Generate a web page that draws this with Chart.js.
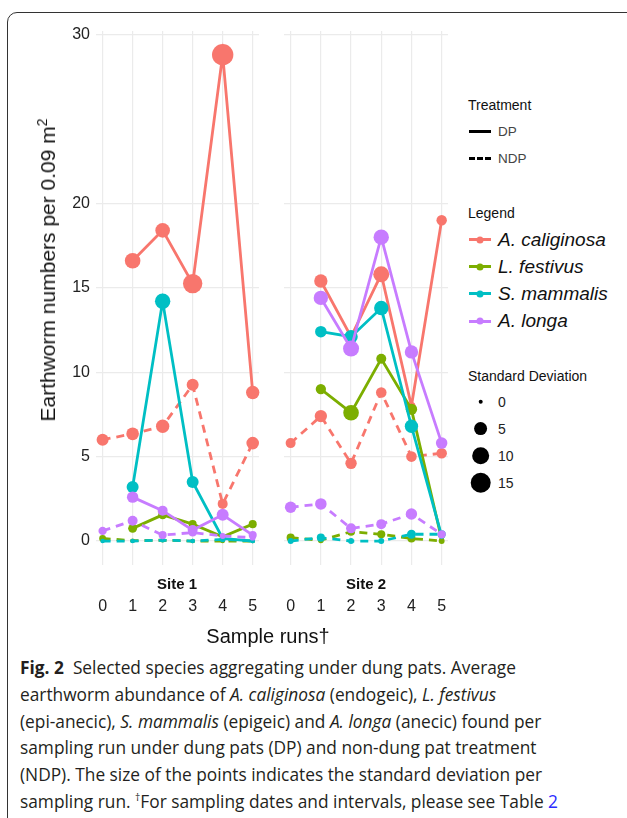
<!DOCTYPE html>
<html>
<head>
<meta charset="utf-8">
<script src="https://cdn.jsdelivr.net/npm/chart.js@4.4.1/dist/chart.umd.min.js"></script>
<style>
html, body { margin: 0; padding: 0; background: #fff; }
body { width: 627px; height: 818px; position: relative; overflow: hidden; font-family: "Liberation Sans", Arial, sans-serif; color: #111; }
.frame { position: absolute; left: 7px; top: 12px; width: 640px; height: 830px; border: 1.3px solid #333; border-radius: 10px; box-sizing: border-box; }
.cv { position: absolute; top: 0; }
.ytitle { position: absolute; left: 47px; top: 270px; transform: translate(-50%, -50%) rotate(-90deg); white-space: nowrap; font-size: 21px; }
.ytitle sup { font-size: 14px; }
.strip { position: absolute; top: 583px; transform: translate(-50%, -50%); font-weight: bold; font-size: 15px; white-space: nowrap; }
.xtitle { position: absolute; left: 268px; top: 636px; transform: translate(-50%, -50%); font-size: 20px; white-space: nowrap; }
.lt { position: absolute; left: 468px; font-size: 14px; transform: translateY(-50%); white-space: nowrap; }
.ll { position: absolute; left: 498px; transform: translateY(-50%); white-space: nowrap; }
.key { position: absolute; left: 469px; width: 22px; height: 0; }
.dot { position: absolute; border-radius: 50%; transform: translate(-50%, -50%); }
.caption { position: absolute; left: 20px; top: 654px; font-family: "Open Sans", sans-serif; font-size: 18.5px; line-height: 26.8px; color: #231f20; transform-origin: 0 0; white-space: nowrap; }
.caption sup { font-size: 11px; vertical-align: 7px; line-height: 0; }
</style>
</head>
<body>
<div class="frame"></div>
<canvas id="site1" class="cv" style="left:0px" width="265" height="640"></canvas>
<canvas id="site2" class="cv" style="left:270px" width="185" height="640"></canvas>

<div class="ytitle">Earthworm numbers per 0.09 m<sup>2</sup></div>
<div class="strip" style="left:177px">Site 1</div>
<div class="strip" style="left:366px">Site 2</div>
<div class="xtitle">Sample runs†</div>

<div id="legend"></div>

<div class="caption" id="caption">
<div><b>Fig. 2</b>&nbsp; Selected species aggregating under dung pats. Average</div>
<div>earthworm abundance of <i>A. caliginosa</i> (endogeic), <i>L. festivus</i></div>
<div>(epi-anecic), <i>S. mammalis</i> (epigeic) and <i>A. longa</i> (anecic) found per</div>
<div>sampling run under dung pats (DP) and non-dung pat treatment</div>
<div>(NDP). The size of the points indicates the standard deviation per</div>
<div>sampling run. <sup>†</sup>For sampling dates and intervals, please see Table <span style="color:#2b2bff">2</span></div>
</div>

<script>
// Data

const runs = [0, 1, 2, 3, 4, 5];
const yTicks = [0, 5, 10, 15, 20, 30];
const species = ["A. caliginosa", "L. festivus", "S. mammalis", "A. longa"];
const colors = ["#F8766D", "#7CAE00", "#00BFC4", "#C77CFF"];
const sdLegend = [0, 5, 10, 15];

// Site 1 means (DP = dung pat, NDP = non-dung pat)
const site1DP = [
	[null, 16.6, 18.4, 15.25, 28.8, 8.8],
	[null, 0.75, 1.55, 1.0, 0.25, 1.0],
	[null, 3.2, 14.2, 3.5, 0.15, 0],
	[null, 2.6, 1.8, 0.65, 1.55, 0.35],
];
const site1NDP = [
	[6.0, 6.35, 6.8, 9.25, 2.2, 5.8],
	[0.15, 0.02, 0.05, 0, 0, 0],
	[0, 0, 0.05, 0, 0.1, 0],
	[0.6, 1.2, 0.35, 0.5, 0.3, 0.2],
];
// Site 1 standard deviations
const site1DPsd = [
	[null, 7.1, 5.9, 12.8, 16.5, 4.5],
	[null, 1.1, 1.1, 0.7, 0.1, 0.7],
	[null, 3.2, 6.8, 3.2, 0.1, 0],
	[null, 2.7, 1.7, 1.7, 3.2, 0.7],
];
const site1NDPsd = [
	[3.2, 3.8, 4.5, 3.2, 1.7, 3.8],
	[0.3, 0, 0, 0, 0, 0],
	[0, 0, 0, 0, 0.1, 0],
	[0.8, 1.7, 0.7, 0.7, 0.1, 0.1],
];

// Site 2 means
const site2DP = [
	[null, 15.4, 12.1, 15.8, 8.0, 19.0],
	[null, 9.0, 7.6, 10.8, 7.8, 0.1],
	[null, 12.4, 12.1, 13.8, 6.8, 0.3],
	[null, 14.4, 11.4, 18.0, 11.2, 5.8],
];
const site2NDP = [
	[5.8, 7.4, 4.6, 8.8, 5.0, 5.2],
	[0.2, 0.05, 0.55, 0.4, 0.15, 0],
	[0, 0.2, 0, 0, 0.4, 0.4],
	[2.0, 2.2, 0.75, 1.0, 1.6, 0.4],
];
// Site 2 standard deviations
const site2DPsd = [
	[null, 4.5, 0.8, 7.6, 0.7, 2.0],
	[null, 1.9, 7.1, 1.7, 2.7, 0],
	[null, 2.8, 4.5, 5.6, 4.5, 0.1],
	[null, 5.6, 7.6, 6.8, 4.5, 2.8],
];
const site2NDPsd = [
	[1.7, 3.5, 2.7, 2.1, 2.1, 2.1],
	[0.7, 0.1, 0.7, 0.7, 0.7, 0.1],
	[0.1, 0.7, 0.1, 0.1, 1.1, 0.7],
	[2.8, 2.8, 1.7, 1.7, 2.7, 0.8],
];

// point radius from standard deviation (area-like scale)
function sdRadius(sd) {
	if (sd == null) return 0;
	return 2.3 + 8 * Math.sqrt(sd / 15);
}

const gridColor = "#ebebeb";
const tickFont = { family: "Liberation Sans", size: 16 };

function buildDatasets(dp, ndp, dpSd, ndpSd) {
	let sets = [];
	for (let i = 0; i < species.length; i++) {
		[[dp[i], dpSd[i], []], [ndp[i], ndpSd[i], [8, 6]]].forEach(function (s) {
			sets.push({
				label: species[i],
				data: runs.map((r, j) => ({ x: r, y: s[0][j] })),
				borderColor: colors[i],
				backgroundColor: colors[i],
				pointBackgroundColor: colors[i],
				borderWidth: 2.8,
				borderDash: s[2],
				pointRadius: s[1].map(sdRadius),
				pointHoverRadius: s[1].map(sdRadius),
				pointBorderWidth: 0,
				tension: 0,
				clip: false,
				order: species.length - i,
			});
		});
	}
	return sets;
}

function makeChart(id, sets, first) {
	new Chart(document.getElementById(id), {
		type: "line",
		data: { datasets: sets },
		options: {
			responsive: false,
			animation: false,
			layout: { autoPadding: false, padding: { left: 0, right: first ? 6 : 7, top: 31, bottom: 0 } },
			plugins: { legend: { display: false }, tooltip: { enabled: false } },
			scales: {
				x: {
					type: "linear",
					min: -0.22,
					max: 5.21,
					afterBuildTicks: function (s) {
						s.ticks = runs.map((v) => ({ value: v }));
					},
					afterFit: function (s) {
						s.height = 75;
						s.paddingLeft = 0;
						s.paddingRight = 0;
					},
					// tick marks are invisible, their length just pushes the labels below the strip
					grid: { color: gridColor, lineWidth: 1.2, drawTicks: true, tickLength: 32, tickColor: "rgba(0,0,0,0)" },
					border: { display: false },
					ticks: { padding: 0, color: "#222", font: tickFont, maxRotation: 0 },
				},
				y: {
					type: "linear",
					min: -1.42,
					max: 30.21,
					afterBuildTicks: function (s) {
						s.ticks = yTicks.map((v) => ({ value: v }));
					},
					afterFit: function (s) {
						s.width = first ? 96 : 14;
					},
					grid: { color: gridColor, lineWidth: 1.2, drawTicks: false },
					border: { display: false },
					ticks: { display: first, padding: 6, color: "#222", font: tickFont },
				},
			},
		},
	});
}

makeChart("site1", buildDatasets(site1DP, site1NDP, site1DPsd, site1NDPsd), true);
makeChart("site2", buildDatasets(site2DP, site2NDP, site2DPsd, site2NDPsd), false);

// legends on the right
const legend = document.getElementById("legend");
let html = "";
html += `<div class="lt" style="top:105px">Treatment</div>`;
html += `<div class="key" style="top:130px;border-top:3px solid #000"></div>`;
html += `<div class="ll" style="top:131px;font-size:13.5px;color:#444">DP</div>`;
html += `<div class="key" style="top:157px;border-top:3px dashed #000;width:22px"></div>`;
html += `<div class="ll" style="top:158px;font-size:13.5px;color:#444">NDP</div>`;
html += `<div class="lt" style="top:213px">Legend</div>`;
for (let i = 0; i < species.length; i++) {
	let y = 239.5 + i * 27.2;
	html += `<div class="key" style="top:${y - 1.5}px;border-top:3px solid ${colors[i]}"></div>`;
	html += `<div class="dot" style="left:480px;top:${y}px;width:7px;height:7px;background:${colors[i]}"></div>`;
	html += `<div class="ll" style="top:${y}px;font-size:19px;font-style:italic">${species[i]}</div>`;
}
html += `<div class="lt" style="top:376px">Standard Deviation</div>`;
for (let i = 0; i < sdLegend.length; i++) {
	let y = 401.5 + i * 27;
	let d = sdRadius(sdLegend[i]) * 2;
	html += `<div class="dot" style="left:480.5px;top:${y}px;width:${d}px;height:${d}px;background:#000"></div>`;
	html += `<div class="ll" style="top:${y}px;font-size:14px;color:#222">${sdLegend[i]}</div>`;
}
legend.innerHTML = html;

// fit caption width to the figure's text block
const caption = document.getElementById("caption");
const firstLine = caption.children[0];
const w = firstLine.getBoundingClientRect().width;
caption.style.transform = "scaleX(" + (538 / w) + ")";
</script>
</body>
</html>
